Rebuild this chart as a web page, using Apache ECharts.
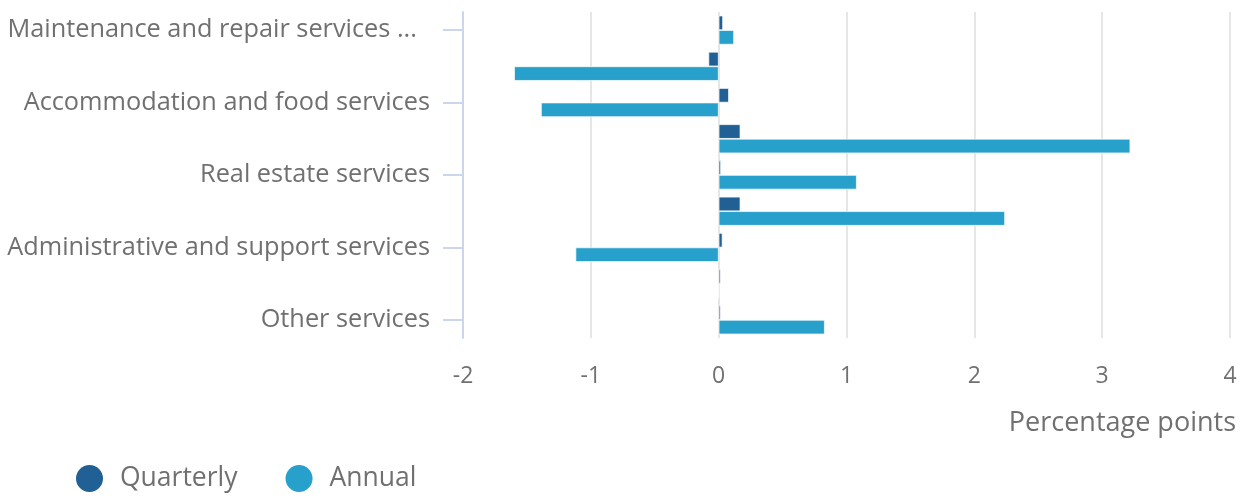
<!DOCTYPE html>
<html>
<head>
<meta charset="utf-8">
<script src="https://cdn.jsdelivr.net/npm/echarts@6/dist/echarts.min.js"></script>
<style>html,body{margin:0;padding:0;background:#fff}#c{width:1248px;height:499px}</style>
</head>
<body>
<div id="c"></div>
<script>
const categories = [
  "Maintenance and repair services ...\u00a0\u00a0",
  "Transportation and storage services",
  "Accommodation and food services",
  "Information and communication services",
  "Real estate services",
  "Professional, scientific and technical services",
  "Administrative and support services",
  "Arts, entertainment and recreation services",
  "Other services"
];
const quarterly = [0.034, -0.08, 0.08, 0.17, 0.018, 0.17, 0.03, 0.015, 0.015];
const annual = [0.12, -1.6, -1.39, 3.22, 1.08, 2.24, -1.12, 0, 0.83];
const xTicks = { min: -2, max: 4, interval: 1 };

const chart = echarts.init(document.getElementById('c'));
const font = "'Open Sans', sans-serif";
chart.setOption({
  animation: false,
  textStyle: { fontFamily: font },
  grid: { left: 463, right: 18, top: 12, bottom: 161, containLabel: false },
  legend: {
    left: 71, top: 460, icon: 'circle', itemWidth: 27, itemHeight: 27, itemGap: 48,
    itemStyle: { borderWidth: 0 },
    textStyle: { color: '#707070', fontSize: 26.5, lineHeight: 27, fontFamily: font, padding: [0, 0, 0, 12] },
    data: ['Quarterly', 'Annual']
  },
  xAxis: {
    type: 'value', min: xTicks.min, max: xTicks.max, interval: xTicks.interval,
    axisLine: { show: false }, axisTick: { show: false },
    splitLine: { lineStyle: { color: '#e6e6e6', width: 2 } },
    axisLabel: { color: '#707070', fontSize: 23, margin: 27, fontFamily: font },
    name: 'Percentage points', nameLocation: 'end', nameGap: 6,
    nameTextStyle: { color: '#707070', fontSize: 27, align: 'right', verticalAlign: 'top', padding: [72, 0, 0, 0], fontFamily: font }
  },
  yAxis: {
    type: 'category', data: categories, inverse: true,
    axisLine: { show: true, onZero: false, lineStyle: { color: '#ccd6eb', width: 2 } },
    axisTick: { show: true, interval: 1, alignWithLabel: true, length: 20, lineStyle: { color: '#ccd6eb', width: 2 } },
    axisLabel: { interval: 1, color: '#707070', fontSize: 25.3, margin: 33, fontFamily: font, padding: [3, 0, 0, 0] },
    splitLine: { show: false }
  },
  series: [
    { name: 'Quarterly', type: 'bar', data: quarterly, barWidth: 14.5, barGap: '0%',
      itemStyle: { color: '#206095', borderColor: '#fff', borderWidth: 0.7 } },
    { name: 'Annual', type: 'bar', data: annual, barWidth: 14.5, barGap: '0%',
      itemStyle: { color: '#27a0cc', borderColor: '#fff', borderWidth: 0.7 } }
  ]
});
</script>
</body>
</html>
